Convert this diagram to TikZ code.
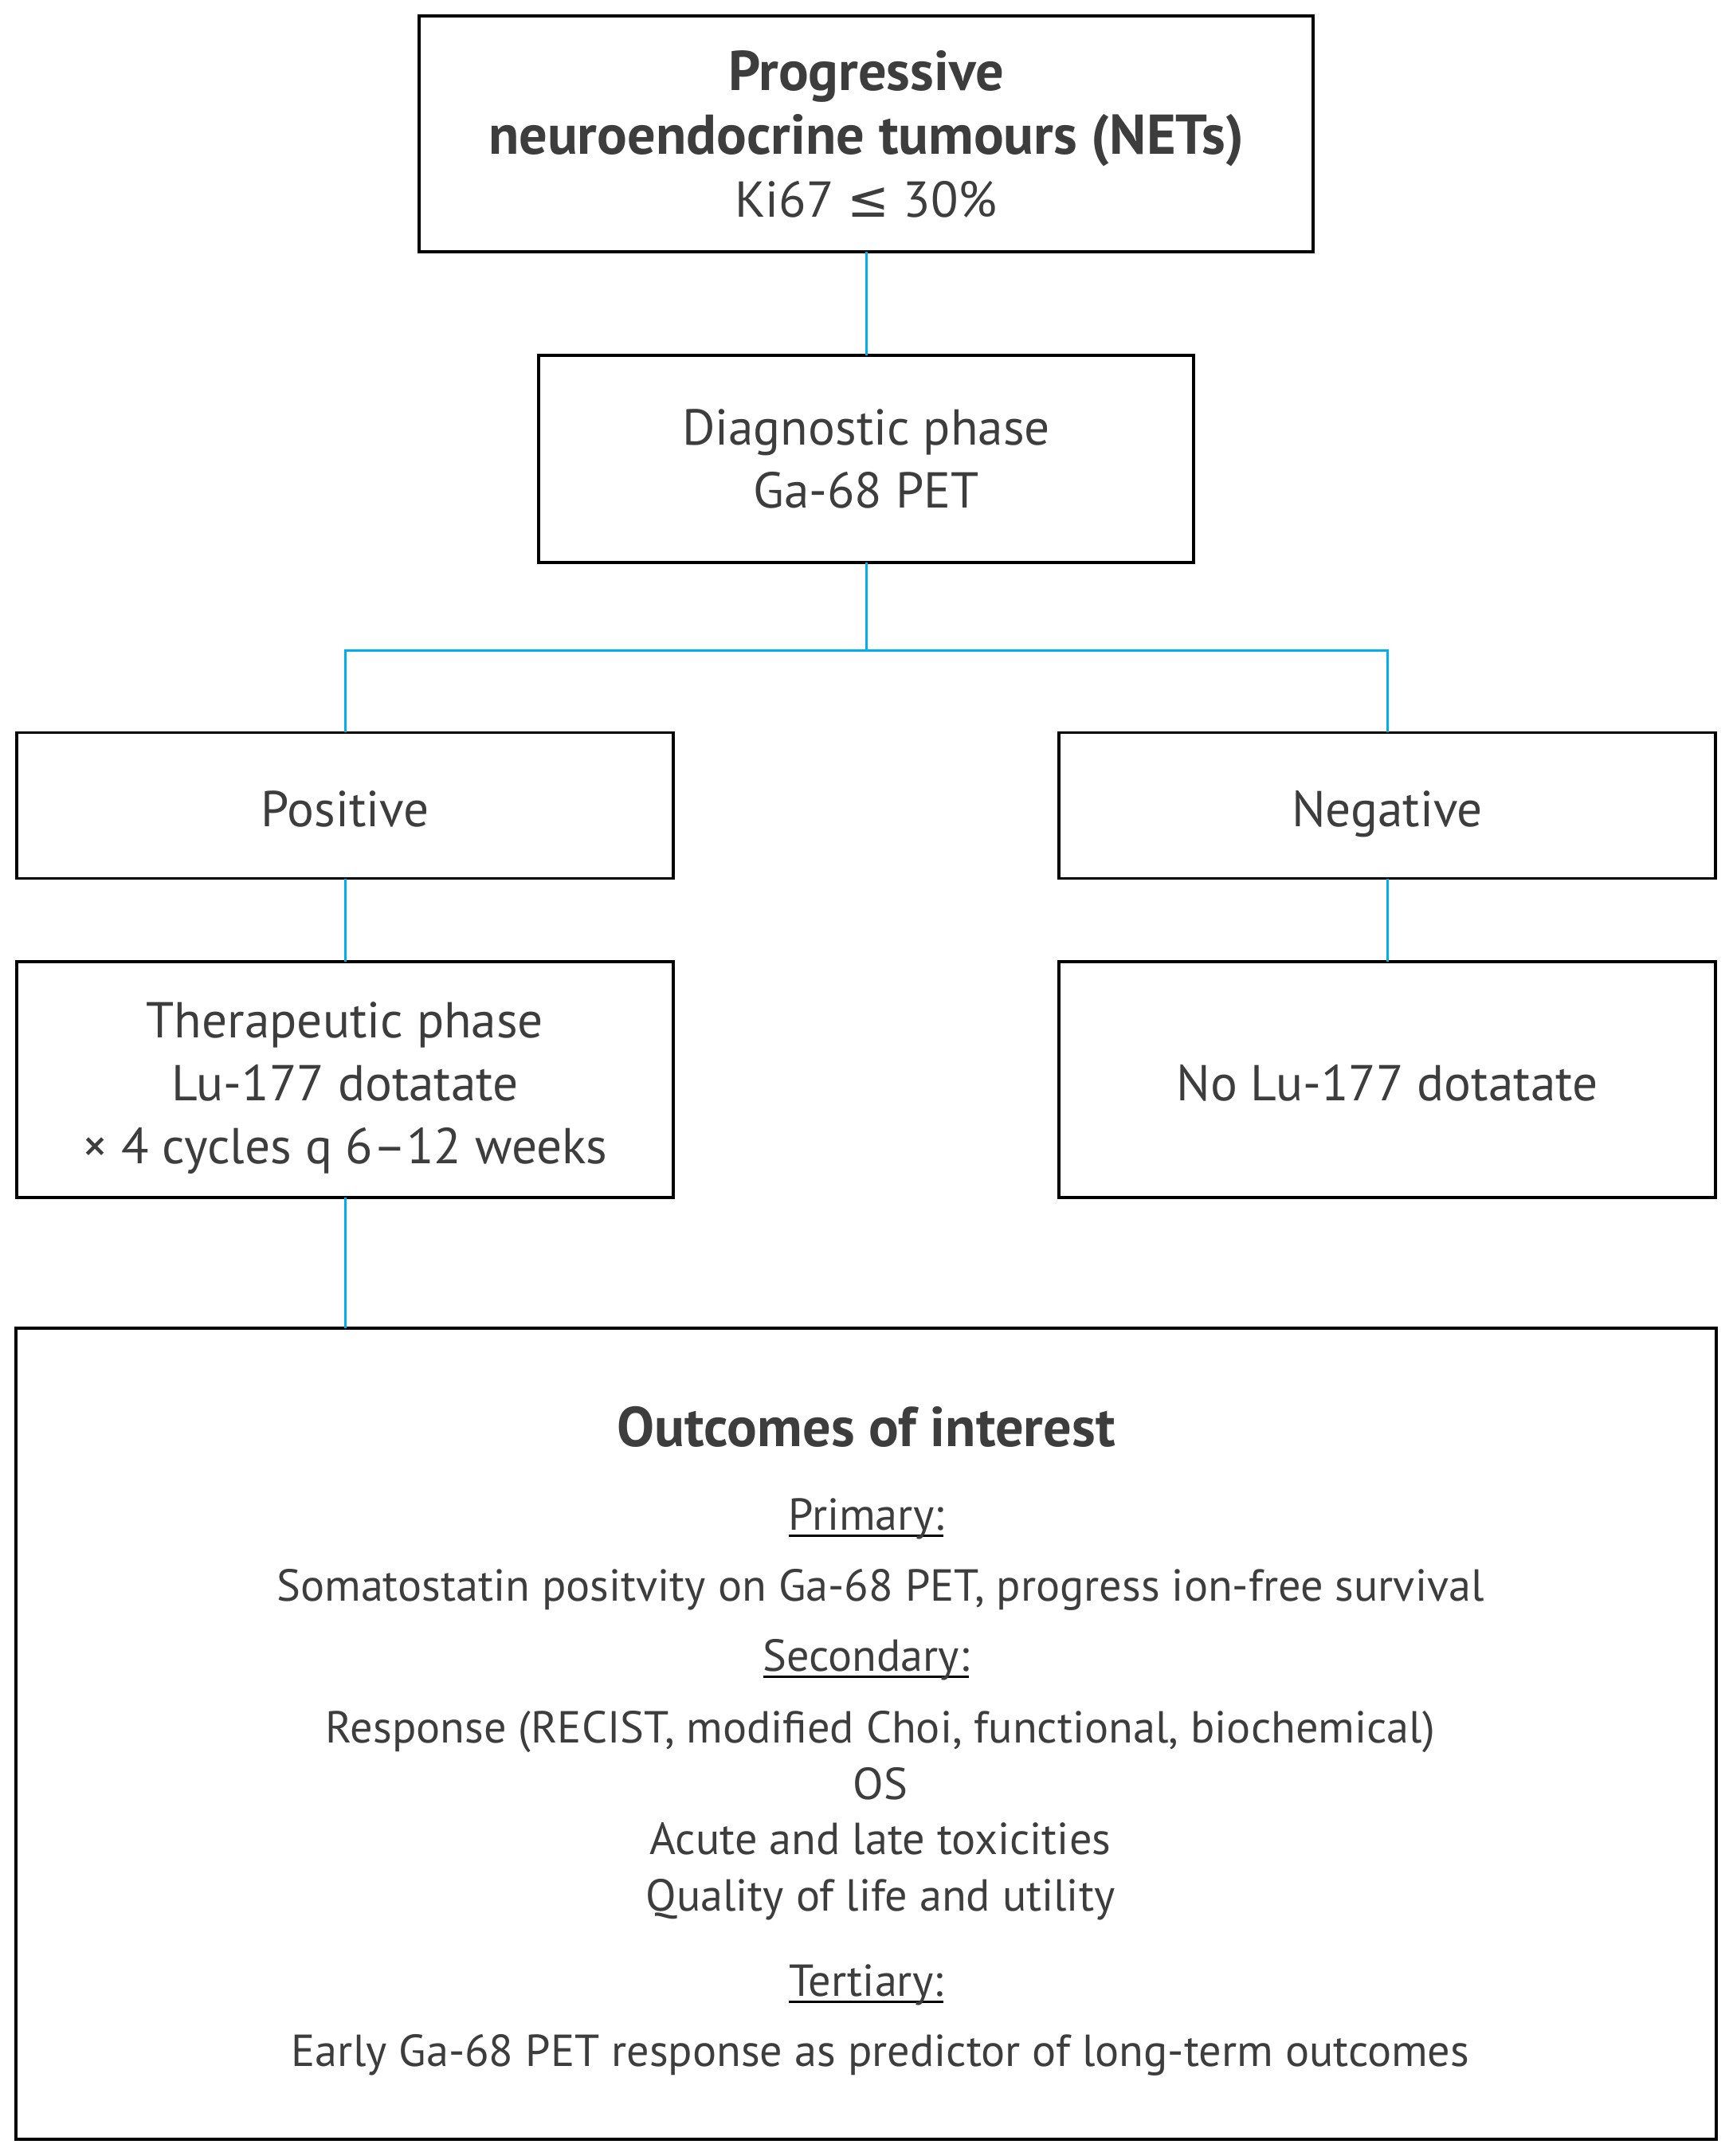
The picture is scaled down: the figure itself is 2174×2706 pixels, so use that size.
\documentclass[tikz,border=0pt]{standalone}
\usepackage{fontspec}
\setmainfont{PT Sans}
\newfontfamily\symfont{DejaVu Sans}
\usepackage{tikz}
\usetikzlibrary{positioning}
\definecolor{textgray}{HTML}{3D3D3D}
\definecolor{linkblue}{HTML}{00AEEF}
\newcommand{\headfont}{\fontsize{20}{22.5}\selectfont\bfseries}
\newcommand{\ulabel}[1]{\setbox0\hbox{#1}\rlap{\color{black}\rule[-2.6pt]{\wd0}{0.8pt}}\box0}
\newcommand{\nodepth}[1]{\raisebox{0pt}[\height][0pt]{#1}}
\tikzset{
  box/.style={draw=black, line width=1.1pt, fill=white, text=textgray, align=center,
    inner sep=0pt, font=\fontsize{18}{22.5}\selectfont},
  oneline/.style={text height=15pt, text depth=0pt},
  link/.style={draw=linkblue, line width=0.85pt},
  outtext/.style={text=textgray, inner sep=0pt, text height=12.4pt, text depth=1pt,
    font=\fontsize{16}{20}\selectfont}
}

\begin{document}
\begin{tikzpicture}[x=0.01cm, y=-0.01cm, line cap=rect, line join=miter]
  \useasboundingbox (0,0) rectangle (2174,2706);
  %--- Top
    \node[box, minimum width=11.22cm, minimum height=2.95cm] (nets) at (1087,168)
      {{\headfont Progressive}\\ {\headfont neuroendocrine tumours (NETs)}\\ \nodepth{Ki67 {\symfont ≤} 30\%}};
  %--- Diagnostic phase
    \node[box, minimum width=8.22cm, minimum height=2.59cm] (diag) at (1087,576)
      {Diagnostic phase\\ Ga-68 PET};
    \coordinate (split) at (1087,816);
  %--- Positive / Negative
    \node[box, oneline, minimum width=8.24cm, minimum height=1.83cm] (pos) at (433,1011) {Positive};
    \node[box, oneline, minimum width=8.24cm, minimum height=1.83cm] (neg) at (1741,1011) {Negative};
  %--- Therapy
    \node[box, minimum width=8.24cm, minimum height=2.95cm] (ther) at (433,1355)
      {\rule{0pt}{15pt}Therapeutic phase\\ Lu-177 dotatate\\ \nodepth{× 4 cycles q 6–12 weeks}};
    \node[box, oneline, minimum width=8.24cm, minimum height=2.95cm] (nolu) at (1741,1355)
      {No Lu-177 dotatate};
  %--- Outcomes
    \node[box, minimum width=21.32cm, minimum height=10.17cm] (outc) at (1087,2176) {};
    \node[outtext, font=\headfont, text height=15pt] (otitle) at (1087,1791) {Outcomes of interest};
    \node[outtext] (prim) at (1087,1900) {\ulabel{Primary:}};
    \node[outtext] (primtx) at (1105,1989) {Somatostatin positvity on Ga-68 PET, progress ion-free survival};
    \node[outtext] (sec) at (1087,2077) {\ulabel{Secondary:}};
    \node[outtext] (sectx) at (1105,2167) {Response (RECIST, modified Choi, functional, biochemical)};
    \node[outtext] (os) at (1105,2238) {OS};
    \node[outtext] (tox) at (1105,2307) {Acute and late toxicities};
    \node[outtext] (qol) at (1105,2378) {Quality of life and utility};
    \node[outtext] (tert) at (1087,2485) {\ulabel{Tertiary:}};
    \node[outtext] (terttx) at (1105,2573) {Early Ga-68 PET response as predictor of long-term outcomes};
  %--- Links
    \draw[link] (nets.south) -- (diag.north);
    \draw[link] (diag.south) -- (split);
    \draw[link] (pos.north) |- (split) -| (neg.north);
    \draw[link] (pos.south) -- (ther.north);
    \draw[link] (neg.south) -- (nolu.north);
    \draw[link] (ther.south) -- (ther.south |- outc.north);
\end{tikzpicture}
\end{document}
